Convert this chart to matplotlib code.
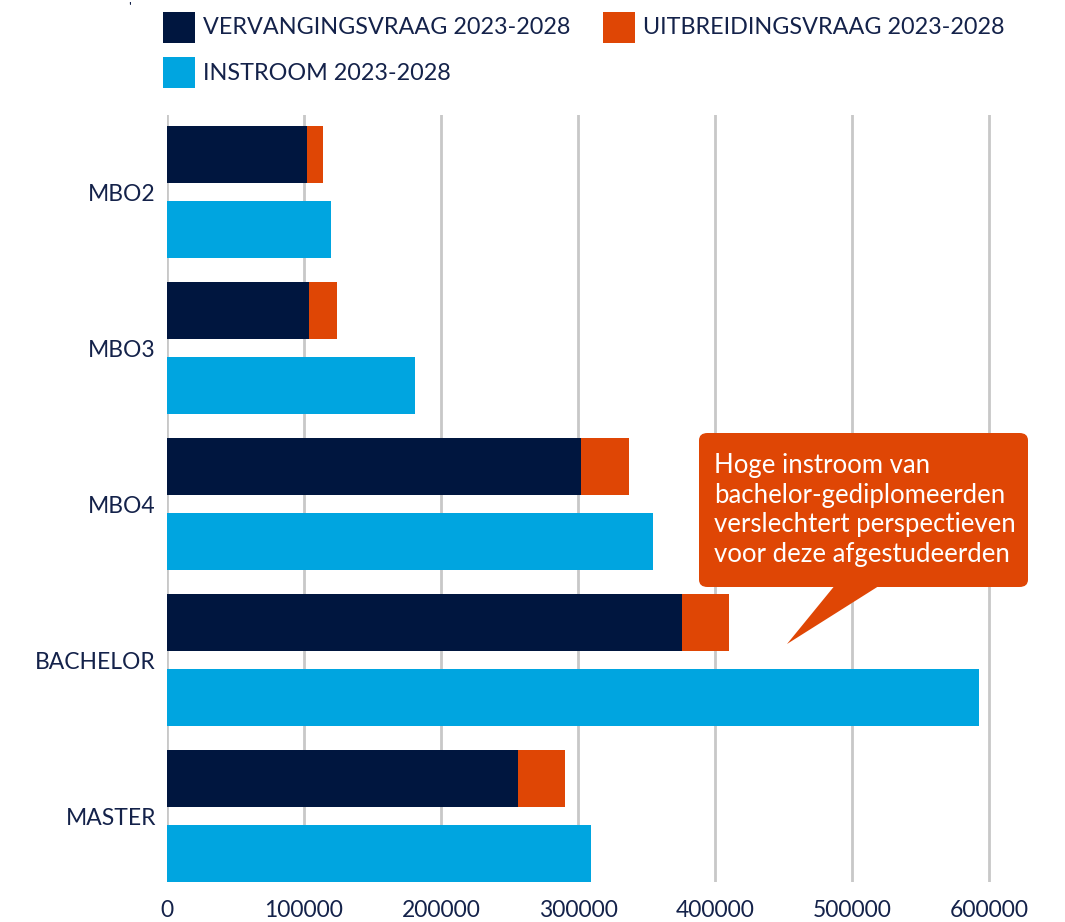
import matplotlib
matplotlib.use("Agg")
import matplotlib.pyplot as plt
from matplotlib.patches import Rectangle, FancyBboxPatch, Polygon
import numpy as np

categories = ["MBO2", "MBO3", "MBO4", "BACHELOR", "MASTER"]
vervangingsvraag = [102000, 103500, 302000, 376000, 256000]
uitbreidingsvraag = [11700, 20500, 35000, 34500, 34500]
instroom = [120000, 181000, 354500, 592700, 309300]
xticks = [0, 100000, 200000, 300000, 400000, 500000, 600000]
series_labels = ["VERVANGINGSVRAAG 2023-2028", "UITBREIDINGSVRAAG 2023-2028", "INSTROOM 2023-2028"]
callout_text = "Hoge instroom van\nbachelor-gediplomeerden\nverslechtert perspectieven\nvoor deze afgestudeerden"

NAVY = "#00163F"
ORANGE = "#DF4605"
BLUE = "#00A5E0"
TEXT = "#14224A"
GRID = "#C8C8C8"
FONT = ["Lato", "DejaVu Sans"]

W, H = 1065, 922
fig = plt.figure(figsize=(W / 100, H / 100), dpi=100)
xmax = 603000
left_px, top_px, bottom_px = 167, 115, 882
right_px = 167 + xmax / 100000 * 137
ax = fig.add_axes([left_px / W, 1 - bottom_px / H, (right_px - left_px) / W, (bottom_px - top_px) / H])

y = np.arange(len(categories))
off = 0.24
h = 0.365
ax.barh(y - off, vervangingsvraag, height=h, color=NAVY, zorder=3)
ax.barh(y - off, uitbreidingsvraag, left=vervangingsvraag, height=h, color=ORANGE, zorder=3)
ax.barh(y + off, instroom, height=h, color=BLUE, zorder=3)

ax.set_xlim(0, xmax)
ax.set_ylim(4.423, -0.494)
ax.set_xticks(xticks)
ax.set_xticklabels([str(v) for v in xticks])
ax.set_yticks(y)
ax.set_yticklabels(categories)
for s in ax.spines.values():
    s.set_visible(False)
ax.tick_params(axis="both", length=0, labelsize=16.5, labelcolor=TEXT)
ax.tick_params(axis="x", pad=13)
ax.tick_params(axis="y", pad=8)
for lab in ax.get_xticklabels() + ax.get_yticklabels():
    lab.set_fontfamily(FONT)
ax.grid(axis="x", color=GRID, linewidth=2, zorder=0)
ax.set_axisbelow(True)

# legend drawn manually in figure pixels
def fx(px):
    return px / W

def fy(py):
    return 1 - py / H

leg = [(163, 12, NAVY, series_labels[0]), (603, 12, ORANGE, series_labels[1]), (163, 57, BLUE, series_labels[2])]
for px, py, col, lab in leg:
    fig.patches.append(Rectangle((fx(px), fy(py + 31)), 32 / W, 31 / H, transform=fig.transFigure,
                                 facecolor=col, edgecolor="none"))
    fig.text(fx(px + 40), fy(py + 16), lab, fontsize=16.8, color=TEXT, va="center", ha="left",
             family=FONT)

fig.text(fx(128), fy(8), "'", fontsize=10, color=TEXT, va="center", ha="left", family=FONT)

# callout
bx0, by0, bx1, by1 = 699, 433, 1028, 587
box = FancyBboxPatch((fx(bx0), fy(by1)), (bx1 - bx0) / W, (by1 - by0) / H,
                     boxstyle="round,pad=0,rounding_size=0.008", transform=fig.transFigure,
                     facecolor=ORANGE, edgecolor="none", zorder=5)
fig.patches.append(box)
tail = Polygon([(fx(836), fy(584)), (fx(882), fy(584)), (fx(787), fy(644))], closed=True,
               transform=fig.transFigure, facecolor=ORANGE, edgecolor="none", zorder=5)
fig.patches.append(tail)
fig.text(fx(714), fy(510), callout_text, fontsize=18.5, color="white", va="center", ha="left",
         family=FONT, linespacing=1.24, zorder=6)

fig.savefig("out.png", dpi=100)
